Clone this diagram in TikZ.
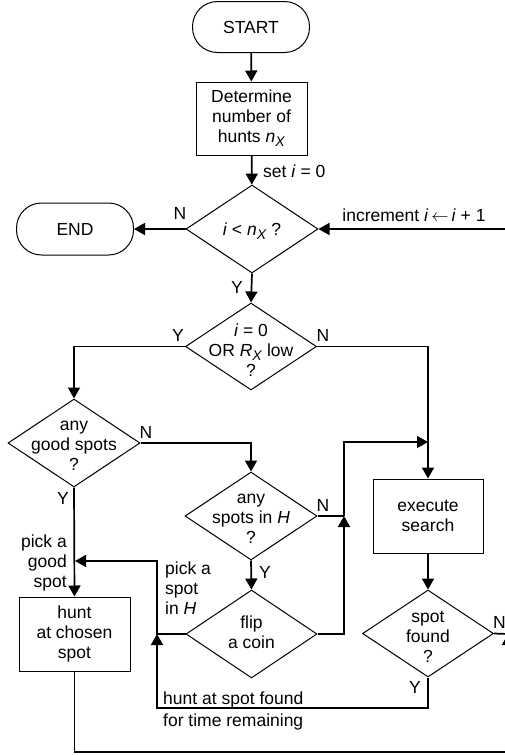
\documentclass[tikz,border=0pt]{standalone}
\usepackage{fontspec}
\setmainfont{Liberation Sans}
\usetikzlibrary{arrows.meta,shapes.geometric}
\newcommand\myfs{\fontsize{17.5}{20}\selectfont}
\newcommand\mysub[1]{\raisebox{-4pt}{\fontsize{14}{14}\selectfont\textit{#1}}}
\begin{document}
\begin{tikzpicture}[x=1pt,y=-1pt,
  conn/.style={line width=1.7pt},
  arr/.style={conn,-{Triangle[length=11pt,width=12pt]}},
  dia/.style={draw,line width=1pt,diamond,inner sep=0pt,minimum width=132pt,minimum height=88pt},
  box/.style={draw,line width=1pt,rectangle,inner sep=0pt,align=center,font=\myfs,minimum width=111pt,minimum height=74pt},
  term/.style={draw,line width=1pt,rectangle,rounded corners=25pt,minimum width=117pt,minimum height=51pt,font=\myfs},
  txt/.style={align=center,font=\myfs,inner sep=0pt},
  lbl/.style={font=\myfs,inner sep=0pt}]
\useasboundingbox (0,0) rectangle (505,755);
\clip (0,0) rectangle (505,755);

% nodes
\node[term] (start) at (251,27) {START};
\node[box, minimum height=73pt] (det) at (251.5,118.5) {Determine\\number of\\hunts \textit{n}\mysub{X}};
\node[dia] (d1) at (252,229) {};
\node[txt] (d1t) at (252,231) {\textit{i} < \textit{n}\mysub{X} ?};
\node[term, minimum height=52pt] (end) at (75,229) {END};
\node[dia, minimum width=131pt, minimum height=87pt] (d2) at (251,346.5) {};
\node[txt] (d2t) at (251,350) {\textit{i} = 0\\OR \textit{R}\mysub{X} low\\?};
\node[dia] (d3) at (74,443) {};
\node[txt] (d3t) at (74,446) {any\\good spots\\?};
\node[dia] (d4) at (251,516) {};
\node[txt] (d4t) at (251,519) {any\\spots in \textit{H}\\?};
\node[box, minimum width=110pt] (exec) at (428,516) {execute\\search};
\node[dia, minimum width=131pt, minimum height=87pt] (d5) at (428,633.5) {};
\node[txt] (d5t) at (428,637) {spot\\found\\?};
\node[dia, minimum width=131pt] (d6) at (251.5,634) {};
\node[txt] (d6t) at (251.5,632) {flip\\a coin};
\node[box] (hunt) at (74.5,634) {hunt\\at chosen\\spot};

% coordinates
\coordinate (jr) at (344,516);
\coordinate (ex) at (428,442);
\coordinate (jl) at (157,634);
\coordinate (gl) at (75,561);
\coordinate (yb) at (157,708);
\coordinate (br) at (508,752);
\coordinate (rm) at (508,634);
\coordinate (rin) at (508,229);

% connectors
\draw[arr] (start) -- (det);
\draw[arr] (det) -- (d1);
\draw[arr] (d1.west) -- (end.east);
\draw[conn] (rm) -- (rin);
\draw[arr] (rin) -- (d1.east);
\draw[arr] (d1.south) -- (d2.north);
\draw[arr] (d2.west) -| (d3.north);
\draw[arr] (d2.east) -| (exec.north);
\draw[arr] (d3.east) -| (d4.north);
\draw[arr] (d3.south) -- (hunt.north);
\draw[arr] (d4.south) -- (d6.north);
\draw[conn] (d4.east) -- (jr);
\draw[arr] (d6.east) -| (jr);
\draw[arr] (jr) |- (ex);
\draw[arr] (exec.south) -- (d5.north);
\draw[arr] (d6.west) -- (jl) |- (gl);
\draw[arr] (d5.south) |- (yb) -- (jl);
\draw[conn] (d5.east) -- (rm);
\draw[arr] (hunt.south) |- (br) -- (rm);

% labels
\node[lbl, anchor=west] (ls) at (263,171) {set \textit{i} = 0};
\node[lbl] (n1) at (180,213) {N};
\node[lbl] (inc) at (414,215) {increment \textit{i}\,$\leftarrow$\,\textit{i} + 1};
\node[lbl] (y1) at (237,287) {Y};
\node[lbl] (y2) at (178,335) {Y};
\node[lbl] (n2) at (323,335) {N};
\node[lbl] (n3) at (146,432) {N};
\node[lbl] (y3) at (63,498) {Y};
\node[lbl] (n4) at (323,505) {N};
\node[lbl] (y4) at (265,572) {Y};
\node[lbl, align=right, anchor=east] (pg) at (67,563) {pick a\\good\\spot};
\node[lbl, align=left, anchor=west] (ph) at (165,588) {pick a\\spot\\in \textit{H}};
\node[lbl] (n5) at (499.5,622) {N};
\node[lbl] (y5) at (415,687) {Y};
\node[lbl, anchor=base west] (hs1) at (163,704) {hunt at spot found};
\node[lbl, anchor=base west] (hs2) at (163,726) {for time remaining};
\end{tikzpicture}
\end{document}
